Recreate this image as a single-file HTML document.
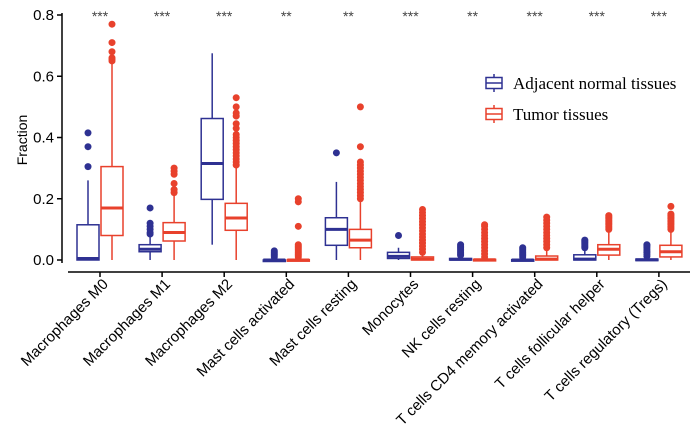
<!DOCTYPE html>
<html><head><meta charset="utf-8"><style>body{margin:0;background:#fff}svg{display:block}</style></head>
<body>
<svg id="chart" width="700" height="433" xmlns="http://www.w3.org/2000/svg"></svg>
<script>
const categories=["Macrophages M0","Macrophages M1","Macrophages M2","Mast cells activated","Mast cells resting","Monocytes","NK cells resting","T cells CD4 memory activated","T cells follicular helper","T cells regulatory (Tregs)"];
const significance=["***","***","***","**","**","***","**","***","***","***"];
// [whiskerLow, q1, median, q3, whiskerHigh]
const normalStats=[[0,0,0.005,0.115,0.26],[0,0.027,0.035,0.05,0.075],[0.05,0.198,0.315,0.462,0.675],[0,0,0,0,0.003],[0,0.048,0.1,0.138,0.255],[0,0.005,0.012,0.025,0.04],[0,0,0.002,0.005,0.01],[0,0,0,0.001,0.003],[0,0,0.003,0.017,0.035],[0,0,0.001,0.003,0.008]];
const tumorStats=[[0,0.08,0.17,0.305,0.64],[0,0.062,0.09,0.122,0.21],[0,0.097,0.137,0.185,0.31],[0,0,0,0.001,0.005],[0,0.04,0.065,0.1,0.19],[0,0,0.003,0.01,0.02],[0,0,0.001,0.002,0.004],[0,0,0.003,0.013,0.03],[0,0.016,0.035,0.05,0.09],[0,0.01,0.027,0.048,0.09]];
const normalOutliers=[[0.305,0.37,0.415],[0.085,0.09,0.1,0.11,0.12,0.17],[],[0.01,0.015,0.02,0.025,0.03],[0.35],[0.08],[0.015,0.02,0.025,0.03,0.035,0.04,0.045,0.05],[0.01,0.015,0.02,0.025,0.03,0.035,0.04],[0.04,0.045,0.05,0.055,0.06,0.065],[0.012,0.018,0.024,0.03,0.036,0.042,0.048,0.05]];
const tumorOutliers=[[0.65,0.655,0.66,0.68,0.71,0.77],[0.22,0.23,0.25,0.28,0.29,0.3],[0.31,0.32,0.33,0.34,0.35,0.36,0.37,0.38,0.39,0.4,0.41,0.43,0.445,0.47,0.48,0.5,0.53],[0.01,0.015,0.02,0.025,0.03,0.035,0.04,0.045,0.05,0.11,0.19,0.2],[0.2,0.21,0.22,0.23,0.24,0.25,0.26,0.27,0.28,0.29,0.3,0.31,0.32,0.37,0.5],[0.025,0.035,0.045,0.055,0.065,0.075,0.085,0.095,0.105,0.115,0.125,0.135,0.145,0.155,0.165],[0.01,0.02,0.03,0.04,0.05,0.06,0.07,0.08,0.09,0.1,0.11,0.115],[0.04,0.05,0.06,0.07,0.08,0.09,0.1,0.11,0.12,0.13,0.14],[0.1,0.105,0.11,0.115,0.12,0.125,0.13,0.135,0.14,0.145],[0.1,0.105,0.11,0.115,0.12,0.125,0.13,0.135,0.14,0.145,0.15,0.175]];
const yTicks=[0,0.2,0.4,0.6,0.8];

const NS="http://www.w3.org/2000/svg";
const svg=document.getElementById('chart');
const BLUE="#2e3192",RED="#e8412c";
const y=v=>260-v*306.25;
const x=i=>100+i*62.1;
function mk(tag,attrs,parent){const e=document.createElementNS(NS,tag);for(const k in attrs)e.setAttribute(k,attrs[k]);(parent||svg).appendChild(e);return e;}

const axes=mk('g',{});


mk('line',{x1:62,y1:13,x2:62,y2:263,stroke:'#000','stroke-width':1.5},axes);
mk('line',{x1:68,y1:272,x2:690,y2:272,stroke:'#000','stroke-width':1.5},axes);
yTicks.forEach(t=>{
  mk('line',{x1:57,y1:y(t),x2:62,y2:y(t),stroke:'#000','stroke-width':1.5},axes);
  const tx=mk('text',{x:54,y:y(t)+5,'text-anchor':'end','font-size':15,'font-family':'Liberation Sans, sans-serif'},axes);
  tx.textContent=t.toFixed(1);
  
  
});
const yt=mk('text',{x:0,y:0,transform:'translate(27,140) rotate(-90)','text-anchor':'middle','font-size':14,'font-family':'Liberation Sans, sans-serif'});
yt.textContent='Fraction';



function box(cx,s,outs,col,name){
  const g=mk('g',{});
  
  
  const w=11;
  mk('line',{x1:cx,y1:y(s[0]),x2:cx,y2:y(s[1]),stroke:col,'stroke-width':1.5},g);
  mk('line',{x1:cx,y1:y(s[3]),x2:cx,y2:y(s[4]),stroke:col,'stroke-width':1.5},g);
  mk('rect',{x:cx-w,y:y(s[3]),width:2*w,height:Math.max(y(s[1])-y(s[3]),1.5),fill:'#fff',stroke:col,'stroke-width':1.5},g);
  mk('line',{x1:cx-w,y1:y(s[2]),x2:cx+w,y2:y(s[2]),stroke:col,'stroke-width':3},g);
  outs.forEach(v=>{mk('circle',{cx:cx,cy:y(v),r:3.5,fill:col},g);});
}
categories.forEach((c,i)=>{
  const cx=x(i);
  mk('line',{x1:cx,y1:272,x2:cx,y2:277,stroke:'#000','stroke-width':1.5},axes);
  box(cx-12,normalStats[i],normalOutliers[i],BLUE,'box-normal');
  box(cx+12,tumorStats[i],tumorOutliers[i],RED,'box-tumor');
  const s=mk('text',{x:cx,y:21,'text-anchor':'middle','font-size':14,fill:'#444','font-family':'Liberation Sans, sans-serif'});
  s.textContent=significance[i];
  
  
  const l=mk('text',{x:0,y:0,transform:`translate(${cx+9},${285}) rotate(-45)`,'text-anchor':'end','font-size':15,'font-family':'Liberation Sans, sans-serif'});
  l.textContent=c;
  
  
});
function legend(yy,col,label){
  const g=mk('g',{});
  
  
  mk('line',{x1:494,y1:yy-9,x2:494,y2:yy+9,stroke:col,'stroke-width':1.5},g);
  mk('rect',{x:486,y:yy-5.5,width:16,height:11,fill:'#fff',stroke:col,'stroke-width':1.5},g);
  mk('line',{x1:486,y1:yy,x2:502,y2:yy,stroke:col,'stroke-width':1.5},g);
  const t=mk('text',{x:513,y:yy+6,'font-size':17,'font-family':'Liberation Serif, serif'},g);
  t.textContent=label;
}
legend(83,BLUE,'Adjacent normal tissues');
legend(114,RED,'Tumor tissues');
</script>
</body></html>
